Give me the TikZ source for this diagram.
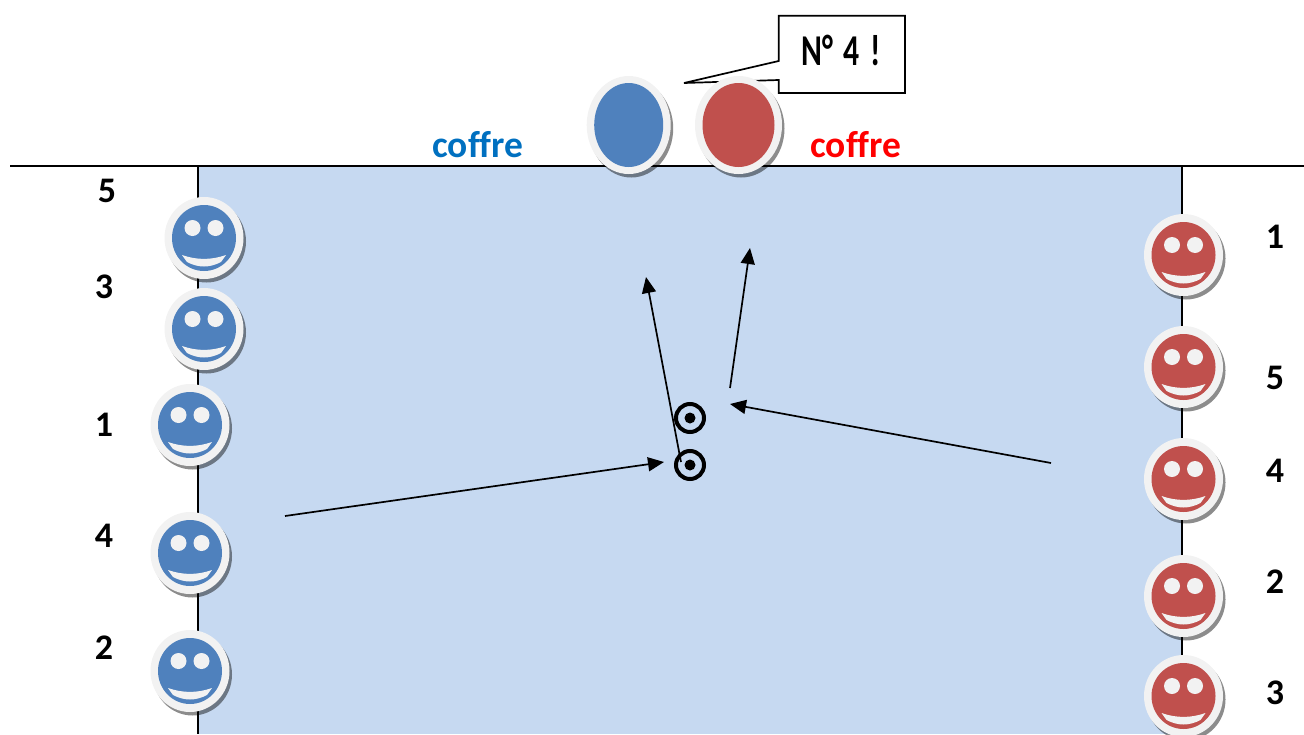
\documentclass[tikz,border=0pt]{standalone}
\usepackage{fontspec}
\setmainfont[Ligatures=NoCommon]{Carlito}
\usetikzlibrary{arrows.meta}
\definecolor{bluef}{HTML}{4F81BD}
\definecolor{redf}{HTML}{C0504D}
\definecolor{ringc}{HTML}{F2F2F2}
\definecolor{panel}{HTML}{C6D9F1}
\tikzset{
  x=1pt,y=-1pt,
  rim/.style={line width=1.7pt},
  arrowline/.style={line width=1.7pt,-{Triangle[length=16pt,width=14pt]}},
  numlabel/.style={font=\bfseries\fontsize{36}{36}\selectfont,text=black,inner sep=0pt,anchor=center},
  chest/.style={font=\bfseries\fontsize{37.5}{37.5}\selectfont,inner sep=0pt,anchor=center},
  pics/face/.style={code={
    \fill[black,opacity=.45] (2.5,3.5) ellipse [x radius=39.5,y radius=41];
    \fill[ringc] (0,0) ellipse [x radius=39.5,y radius=41];
    \fill[#1] (0,0) ellipse [x radius=32,y radius=33];
    \fill[ringc] (-11.5,-10) circle (8);
    \fill[ringc] (11.5,-10) circle (8);
    \fill[ringc] (-22,17) .. controls (-7.3,22.2) and (7.3,22.2) .. (22,17)
       -- (17,24) .. controls (5.7,30) and (-5.7,30) .. (-17,24) -- cycle;
  }},
  pics/bigoval/.style={code={
    \fill[black,opacity=.45] (2.5,3.5) ellipse [x radius=#1,y radius=49];
  }},
  pics/target/.style={code={
    \draw[line width=4pt] (0,0) circle (14);
    \fill (0,0) circle (5.5);
  }}
}
\begin{document}
\begin{tikzpicture}
\useasboundingbox (0,0) rectangle (1304,734);
\fill[panel] (198,166) rectangle (1182,734);
\coordinate (hl) at (10,166);
\coordinate (hr) at (1304,166);
\coordinate (lt) at (198,166);
\coordinate (lb) at (198,734);
\coordinate (rt) at (1182,166);
\coordinate (rb) at (1182,734);
\draw[rim] (hl) -- (hr);
\draw[rim] (lt) -- (lb);
\draw[rim] (rt) -- (rb);

% callout
\coordinate (c1) at (778.7,15.7);
\coordinate (c2) at (905,15.7);
\coordinate (c3) at (905,93);
\coordinate (c4) at (778.7,93);
\coordinate (c5) at (778.7,80);
\coordinate (tip) at (684,83);
\coordinate (c6) at (778.7,61);
\draw[rim,fill=white,line join=miter] (c1) -- (c2) -- (c3) -- (c4) -- (c5) -- (tip) -- (c6) -- cycle;
\node[font=\bfseries\fontsize{44}{44}\selectfont,inner sep=0pt,xscale=.72] (say) at (841,50) {N°\,\,4\,\,!};

% big ovals
\pic at (628.7,125) {bigoval=42};
\fill[ringc] (628.7,125) ellipse [x radius=42,y radius=49];
\fill[bluef] (628.7,125) ellipse [x radius=34.5,y radius=42];
\pic at (738.5,125) {bigoval=43.5};
\fill[ringc] (738.5,125) ellipse [x radius=43.5,y radius=49];
\fill[redf] (738.5,125) ellipse [x radius=36,y radius=42];

\node[chest,text={rgb,255:red,0;green,112;blue,192}] (cb) at (478,145) {coffre};
\node[chest,text=red] (cr) at (856,145) {coffre};

\pic at (204,238) {face=bluef};
\pic at (204,329) {face=bluef};
\pic at (190,425) {face=bluef};
\pic at (190,553) {face=bluef};
\pic at (190,671) {face=bluef};
\pic at (1183.5,255) {face=redf};
\pic at (1183.5,367) {face=redf};
\pic at (1183.5,479) {face=redf};
\pic at (1183.5,596) {face=redf};
\pic at (1183.5,696) {face=redf};

\node[numlabel] (b5) at (107,191) {5};
\node[numlabel] (b3) at (104,287) {3};
\node[numlabel] (b1) at (104,425) {1};
\node[numlabel] (b4) at (104,536) {4};
\node[numlabel] (b2) at (104,648) {2};
\node[numlabel] (r1) at (1275,237) {1};
\node[numlabel] (r5) at (1275,378) {5};
\node[numlabel] (r4) at (1275,471) {4};
\node[numlabel] (r2) at (1275,582) {2};
\node[numlabel] (r3) at (1275,693) {3};

\pic at (690,418) {target};
\pic at (690,465) {target};

\coordinate (a1s) at (285,516);
\coordinate (a1e) at (664,462);
\coordinate (a2s) at (1051,463);
\coordinate (a2e) at (730,404);
\coordinate (a3s) at (681,462);
\coordinate (a3e) at (646,277);
\coordinate (a4s) at (730,388);
\coordinate (a4e) at (750,248);
\draw[arrowline] (a1s) -- (a1e);
\draw[arrowline] (a2s) -- (a2e);
\draw[arrowline] (a3s) -- (a3e);
\draw[arrowline] (a4s) -- (a4e);
\end{tikzpicture}
\end{document}
